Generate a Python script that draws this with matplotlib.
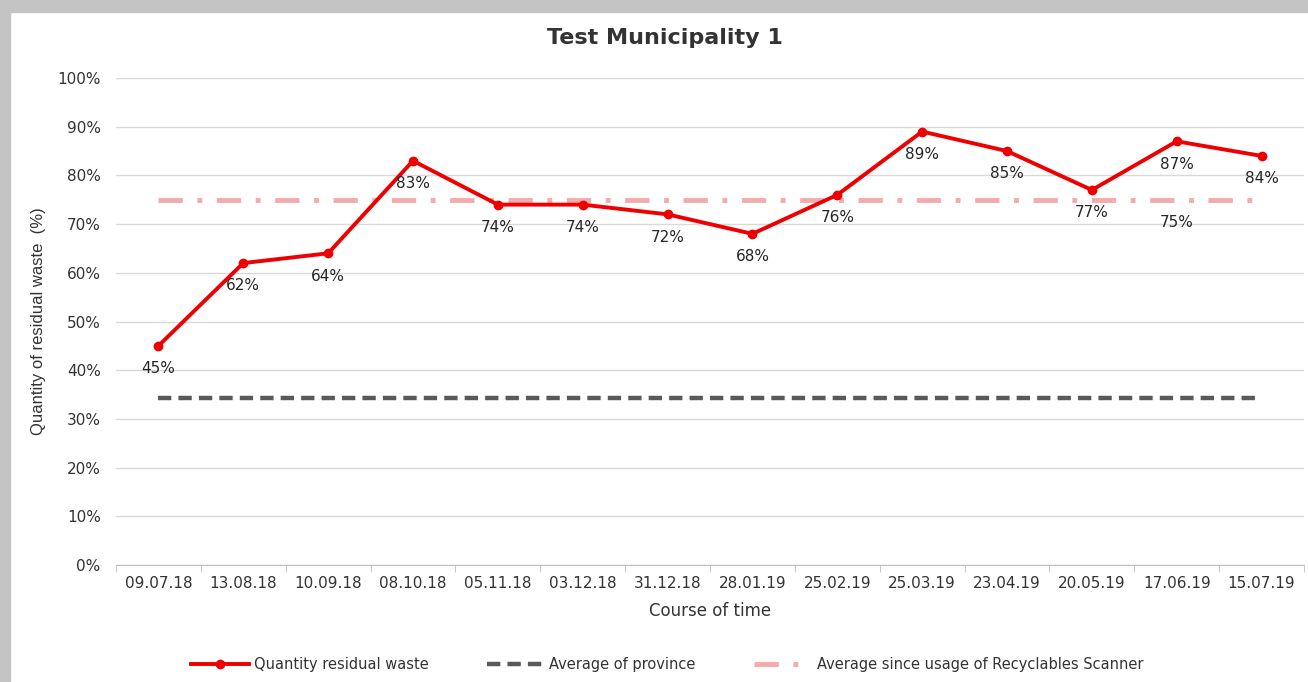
import matplotlib
matplotlib.use('Agg')
import matplotlib.pyplot as plt
from matplotlib.patches import Rectangle
from matplotlib.ticker import FuncFormatter, FixedLocator

plt.rcParams['font.family'] = ['DejaVu Sans']

dates = ['09.07.18', '13.08.18', '10.09.18', '08.10.18', '05.11.18', '03.12.18', '31.12.18',
         '28.01.19', '25.02.19', '25.03.19', '23.04.19', '20.05.19', '17.06.19', '15.07.19']
residual = [45, 62, 64, 83, 74, 74, 72, 68, 76, 89, 85, 77, 87, 84]
province_avg = 34.3
scanner_avg = 75
scanner_label_idx = 12

x = list(range(len(dates)))

fig = plt.figure(figsize=(13.08, 6.82), dpi=100)
# frame shadow like the screenshot
fig.patches.append(Rectangle((0, 1 - 12 / 682), 1, 12 / 682, transform=fig.transFigure,
                             color='#c4c4c4', zorder=0))
fig.patches.append(Rectangle((0, 0), 10 / 1308, 1, transform=fig.transFigure,
                             color='#c4c4c4', zorder=0))

ax = fig.add_axes([116 / 1308, 117 / 682, (1304 - 116) / 1308, (565 - 78) / 682])

ax.plot(x, [scanner_avg] * len(x), color='#f4abab', lw=3.5,
        dashes=(5, 3, 1, 3), label='Average since usage of Recyclables Scanner', zorder=2)
ax.plot(x, [province_avg] * len(x), color='#595959', lw=3.2,
        dashes=(3, 1.6), label='Average of province', zorder=2)
ax.plot(x, residual, color='#ee0000', lw=2.8, marker='o', markersize=6,
        label='Quantity residual waste', zorder=3)

for i, v in enumerate(residual):
    ax.annotate(f'{v}%', (i, v), xytext=(0, -11), textcoords='offset points',
                ha='center', va='top', fontsize=11, color='#262626')
ax.annotate(f'{scanner_avg}%', (scanner_label_idx, scanner_avg), xytext=(0, -11),
            textcoords='offset points', ha='center', va='top', fontsize=11, color='#262626')

ax.set_xlim(-0.5, len(dates) - 0.5)
ax.set_ylim(0, 100)
ax.set_yticks(range(0, 101, 10))
ax.yaxis.set_major_formatter(FuncFormatter(lambda v, p: f'{int(v)}%'))
ax.set_xticks(x)
ax.set_xticklabels(dates)
ax.xaxis.set_minor_locator(FixedLocator([i - 0.5 for i in range(len(dates) + 1)]))
ax.tick_params(axis='x', which='major', length=0, pad=8, labelsize=11, labelcolor='#333333')
ax.tick_params(axis='x', which='minor', length=5, color='#bfbfbf')
ax.tick_params(axis='y', length=0, pad=11, labelsize=11, labelcolor='#333333')

ax.grid(axis='y', color='#d9d9d9', lw=1)
ax.set_axisbelow(True)
for s in ['top', 'right', 'left']:
    ax.spines[s].set_visible(False)
ax.spines['bottom'].set_color('#bfbfbf')

fig.text(665 / 1308, 1 - 38 / 682, 'Test Municipality 1', fontsize=16, fontweight='bold',
         color='#333333', ha='center', va='center')
ax.set_xlabel('Course of time', fontsize=12, color='#333333', labelpad=8)
ax.set_ylabel('Quantity of residual waste  (%)', fontsize=12, color='#333333', labelpad=8,
              family='Liberation Sans')

h, l = ax.get_legend_handles_labels()
fig.legend(h[::-1], l[::-1], loc='center', bbox_to_anchor=(0.51, 17 / 682), ncol=3,
           frameon=False, fontsize=10.5, handlelength=4, columnspacing=4, handletextpad=0.3,
           labelcolor='#333333')

fig.savefig('out.png', dpi=100)
